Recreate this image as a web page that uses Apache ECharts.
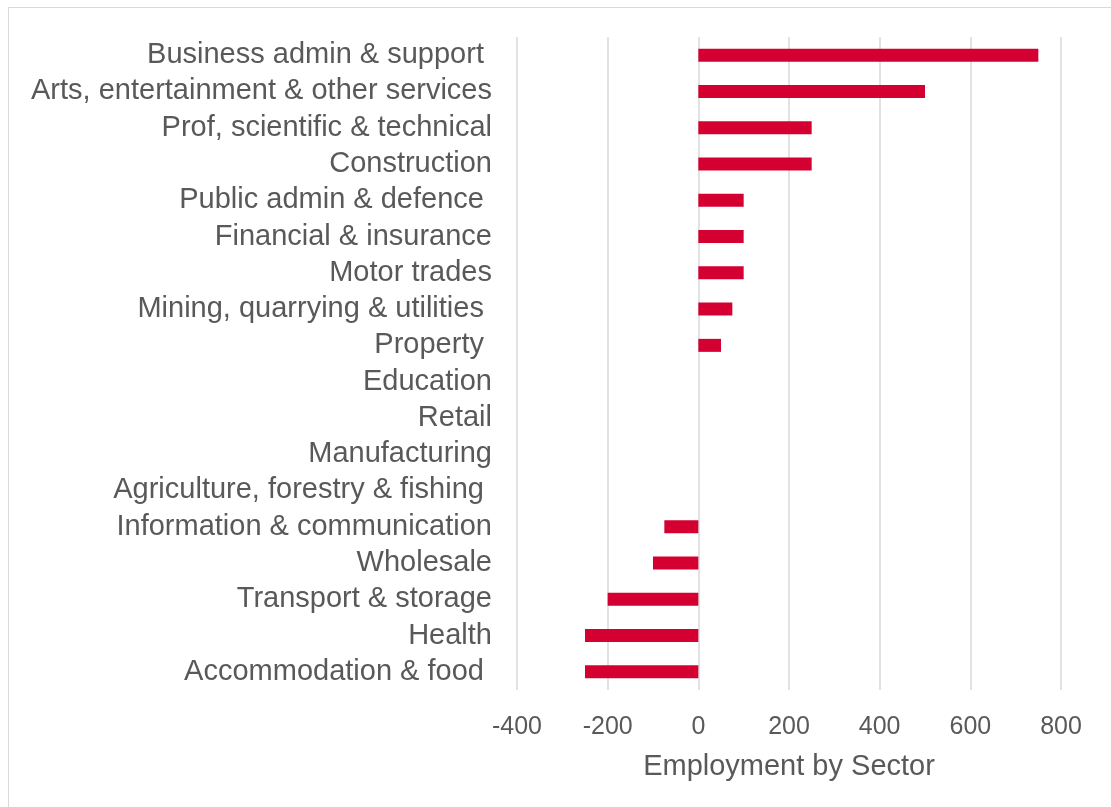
<!DOCTYPE html>
<html><head><meta charset="utf-8">
<script src="https://cdn.jsdelivr.net/npm/echarts@6/dist/echarts.min.js"></script>
<style>
html,body{margin:0;padding:0;background:#fff;overflow:hidden}
#frame{position:absolute;left:8px;top:7px;width:1200px;height:900px;border-left:1px solid #d9d9d9;border-top:1px solid #d9d9d9}
#c{position:absolute;left:0;top:0;width:1111px;height:807px}
</style></head>
<body><div id="frame"></div><div id="c"></div>
<script>
const categories = [
  "Business admin & support ",
  "Arts, entertainment & other services",
  "Prof, scientific & technical",
  "Construction",
  "Public admin & defence ",
  "Financial & insurance",
  "Motor trades",
  "Mining, quarrying & utilities ",
  "Property ",
  "Education",
  "Retail",
  "Manufacturing",
  "Agriculture, forestry & fishing ",
  "Information & communication",
  "Wholesale",
  "Transport & storage",
  "Health",
  "Accommodation & food "
];
const values = [750, 500, 250, 250, 100, 100, 100, 75, 50, 0, 0, 0, 0, -75, -100, -200, -250, -250];
const axisName = "Employment by Sector";

const chart = echarts.init(document.getElementById('c'), null, {renderer:'canvas'});
chart.setOption({
  backgroundColor: 'transparent',
  animation: false,
  textStyle: {fontFamily: '"Liberation Sans", Arial, sans-serif'},
  grid: {left: 517, right: 50, top: 37, bottom: 117, containLabel: false},
  xAxis: {
    type: 'value', min: -400, max: 800, interval: 200,
    name: axisName, nameLocation: 'middle', nameGap: 62,
    nameTextStyle: {fontSize: 29, color: '#595959'},
    axisLabel: {fontSize: 25, color: '#595959', margin: 25},
    axisLine: {show: false}, axisTick: {show: false},
    splitLine: {show: true, lineStyle: {color: '#d9d9d9', width: 1.5}}
  },
  yAxis: {
    type: 'category', data: categories.slice().reverse(),
    axisLabel: {fontSize: 29, color: '#595959', margin: 25, interval: 0},
    axisLine: {show: false}, axisTick: {show: false}, splitLine: {show: false}
  },
  series: [{
    type: 'bar', data: values.slice().reverse(), barWidth: 13,
    itemStyle: {color: '#D50032'}
  }]
});
</script></body></html>
